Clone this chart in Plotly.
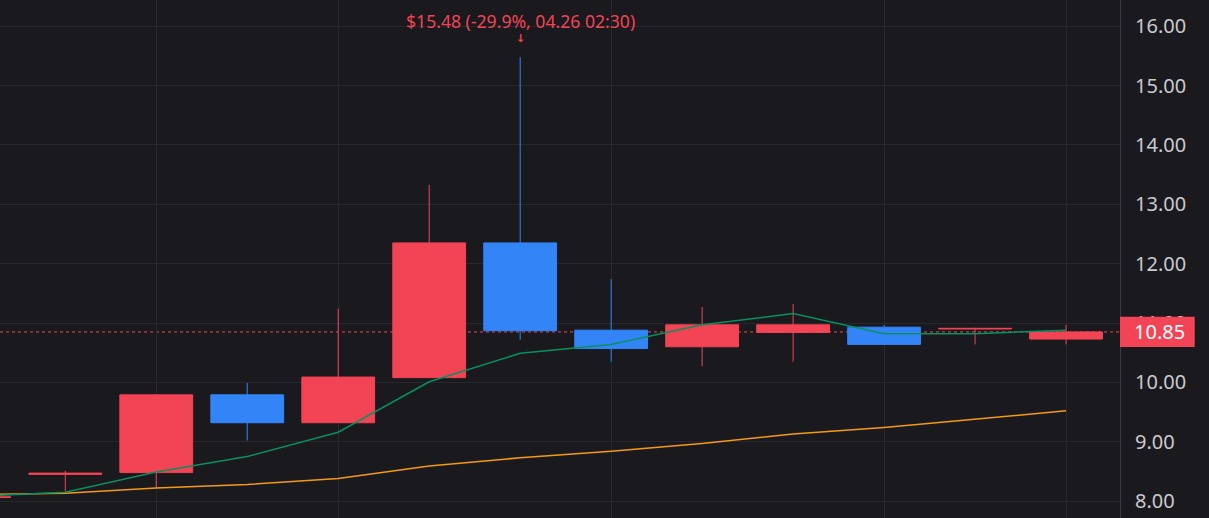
import plotly.graph_objects as go

# ---- data ----
idx = list(range(13))
opens  = [8.06, 8.45, 8.48, 9.79, 9.32, 10.08, 12.35, 10.88, 10.60, 10.84, 10.93, 10.90, 10.73]
highs  = [8.07, 8.51, 9.80, 9.99, 11.24, 13.33, 15.48, 11.74, 11.27, 11.32, 10.97, 10.92, 10.97]
lows   = [8.06, 8.13, 8.22, 9.02, 9.32, 10.08, 10.72, 10.35, 10.27, 10.35, 10.64, 10.64, 10.64]
closes = [8.07, 8.47, 9.79, 9.32, 10.09, 12.35, 10.87, 10.57, 10.97, 10.97, 10.64, 10.91, 10.85]
ma_short = [8.08, 8.15, 8.49, 8.75, 9.16, 10.01, 10.49, 10.64, 10.97, 11.16, 10.82, 10.82, 10.88]
ma_long  = [8.11, 8.13, 8.22, 8.28, 8.38, 8.59, 8.73, 8.84, 8.97, 9.13, 9.24, 9.38, 9.52]
grid_x = [2, 4, 7, 10, 12]
y_ticks = [8, 9, 10, 11, 12, 13, 14, 15, 16]
high_time = "04.26 02:30"

RED = "#f24455"
BLUE = "#3385f7"
GREEN = "#0a8f5f"
ORANGE = "#f59a16"
BG = "#19191e"
GRID = "#27272d"

last = closes[-1]
hi = max(highs)
hi_i = highs.index(hi)
pct = (last - hi) / hi * 100

fig = go.Figure()
fig.add_trace(go.Scatter(x=idx, y=ma_long, mode="lines", line=dict(color=ORANGE, width=1.5), hoverinfo="skip"))
fig.add_trace(go.Scatter(x=idx, y=ma_short, mode="lines", line=dict(color=GREEN, width=1.5), hoverinfo="skip"))
fig.add_trace(go.Candlestick(
    x=idx, open=opens, high=highs, low=lows, close=closes,
    increasing=dict(line=dict(color=RED, width=1), fillcolor=RED),
    decreasing=dict(line=dict(color=BLUE, width=1), fillcolor=BLUE),
    whiskerwidth=0,
))

# last price dotted line
fig.add_hline(y=last, line=dict(color=RED, width=1, dash="dot"), layer="below")

# last price tag box
fig.add_shape(type="rect", xref="paper", yref="y", x0=1.0, x1=1.0667,
              y0=last - 0.255, y1=last + 0.255, fillcolor=RED, line=dict(width=0), layer="above")
fig.add_annotation(xref="paper", yref="y", x=1.0, y=last, xanchor="left", yanchor="middle",
                   xshift=12, text=f"{last:.2f}", showarrow=False,
                   font=dict(family="Noto Sans", size=20, color="#ffffff"))

# high marker
fig.add_annotation(x=hi_i, y=hi, yshift=36, text=f"${hi:.2f} ({pct:.1f}%, {high_time})",
                   showarrow=False, font=dict(family="Noto Sans", size=17.6, color=RED), yanchor="middle")
fig.add_annotation(x=hi_i, y=hi, yshift=19, text="<b>↓</b>", showarrow=False,
                   font=dict(family="DejaVu Sans", size=11, color=RED), yanchor="middle")

fig.update_layout(
    width=1209, height=518,
    margin=dict(l=0, r=89, t=0, b=0),
    paper_bgcolor=BG, plot_bgcolor=BG,
    showlegend=False,
    boxgap=0.2, boxgroupgap=0,
    xaxis=dict(range=[0.2824, 12.593], tickvals=grid_x, showticklabels=False,
               showgrid=True, gridcolor=GRID, gridwidth=1, zeroline=False,
               rangeslider=dict(visible=False), fixedrange=True),
    yaxis=dict(range=[7.715, 16.443], side="right", tickvals=y_ticks,
               ticktext=[f"{v:.2f}" for v in y_ticks],
               showgrid=True, gridcolor=GRID, gridwidth=1, zeroline=False,
               showline=True, linecolor="#3a3a42", linewidth=1,
               ticks="", ticklabelstandoff=10,
               tickfont=dict(family="Noto Sans", size=20, color="#c9c9ce")),
)

fig.write_html("out.html", config={"displayModeBar": False},
               post_script="document.body.style.margin='0';")
